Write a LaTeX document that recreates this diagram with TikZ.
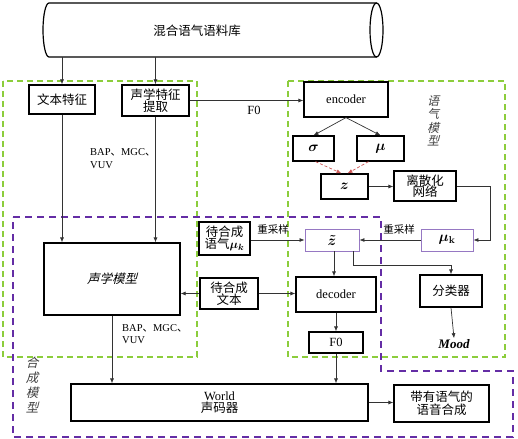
\documentclass[tikz,border=0pt]{standalone}
\usepackage{fontspec}
\setmainfont{Liberation Serif}
\newfontfamily\cjk{Noto Sans CJK SC}
\newfontfamily\cjksl[FakeSlant=0.25]{Noto Sans CJK SC}
\usetikzlibrary{arrows.meta}
\definecolor{grn}{RGB}{140,205,60}
\definecolor{prp}{RGB}{100,45,165}
\definecolor{rdd}{RGB}{205,85,85}
\definecolor{lpr}{RGB}{150,120,195}
\begin{document}
\begin{tikzpicture}[x=1pt,y=-1pt,
  font=\fontsize{12.5}{14.5}\selectfont,
  box/.style={draw=black, line width=1.2pt, fill=white, inner sep=0pt, align=center},
  thinbox/.style={draw=lpr, line width=0.9pt, fill=white, inner sep=0pt, align=center},
  conn/.style={draw=black!80, line width=0.7pt, -{Latex[length=5pt,width=4pt]}},
  redconn/.style={draw=rdd, line width=0.7pt, dash pattern=on 3pt off 2pt, -{Latex[length=5pt,width=4pt]}},
  grnbox/.style={draw=grn, line width=1.3pt, dash pattern=on 6pt off 4pt},
  prpbox/.style={draw=prp, line width=1.3pt, dash pattern=on 7pt off 5pt},
  mathtxt/.style={font=\fontsize{14}{16}\selectfont\boldmath},
  lbl/.style={font=\fontsize{10.5}{12.5}\selectfont, align=left, inner sep=0pt},
  vlbl/.style={font=\fontsize{12}{13.5}\selectfont\cjksl, align=center, inner sep=0pt, text=black!75}
]
\useasboundingbox (0,0) rectangle (518,438);
% dashed regions
\draw[grnbox] (3,81) rectangle (197,357);
\draw[grnbox] (288,81) rectangle (505,357);
\draw[prpbox] (13,217) -- (381,217) -- (381,371) -- (513,371) -- (513,437) -- (13,437) -- cycle;

% cylinder
\draw[line width=1.2pt, fill=white] (376.5,3) -- (49,3) .. controls (45.7,3) and (43,15.1) .. (43,30) .. controls (43,44.9) and (45.7,57) .. (49,57) -- (376.5,57);
\draw[line width=1.2pt] (376.5,30) ellipse[x radius=6.5, y radius=27];
\node[inner sep=0pt, minimum width=334pt, minimum height=54pt] (db) at (210,30) {};
\node (dbt) at (197,31) {\cjk 混合语气语料库};

% boxes
\node[box, minimum width=66pt, minimum height=29pt] (tf) at (62,99.5) {\cjk 文本特征};
\node[box, minimum width=67pt, minimum height=31pt] (af) at (155.5,100.5) {\cjk 声学特征\\[-2pt]\cjk 提取};
\node[box, minimum width=84pt, minimum height=35pt] (enc) at (346,99.5) {encoder};
\node[box, mathtxt, minimum width=41pt, minimum height=25pt] (sig) at (313.5,148.5) {$\sigma$};
\node[box, mathtxt, minimum width=47pt, minimum height=25pt] (mu) at (380.5,148.5) {$\mu$};
\node[box, mathtxt, minimum width=47pt, minimum height=25pt] (zb) at (344.5,186.5) {$z$};
\node[box, minimum width=62pt, minimum height=30pt] (disc) at (425,186) {\cjk 离散化\\[-3pt]\cjk 网络};
\node[thinbox, mathtxt, minimum width=52pt, minimum height=22pt] (muk) at (447,240) {$\mu_{\mathbf{k}}$};
\node[thinbox, mathtxt, minimum width=54pt, minimum height=22pt] (zt) at (332,240) {$\tilde{z}$};
\node[box, minimum width=51pt, minimum height=33pt] (tmood) at (224.5,238.5) {\cjk 待合成\\[-3pt]{\cjk 语气}{\boldmath$\mu_{k}$}};
\node[box, minimum width=58pt, minimum height=31pt] (ttext) at (229,293.5) {\cjk 待合成\\[-3pt]\cjk 文本};
\node[box, minimum width=136pt, minimum height=72pt] (am) at (112,279) {\cjksl 声学模型};
\node[box, minimum width=80pt, minimum height=35pt] (dec) at (336,294.5) {decoder};
\node[box, minimum width=62pt, minimum height=32pt] (cls) at (451,291) {\cjk 分类器};
\node[box, minimum width=54pt, minimum height=21pt] (f0) at (336,342.5) {F0};
\node[box, minimum width=297pt, minimum height=37pt] (world) at (219.5,402.5) {World\\[-2pt]\cjk 声码器};
\node[box, minimum width=95pt, minimum height=37pt] (out) at (441.5,403.5) {\cjk 带有语气的\\[-2pt]\cjk 语音合成};
\node[inner sep=1pt, font=\fontsize{13}{15}\selectfont\bfseries\itshape] (mood) at (454,344) {Mood};

% labels
\node[lbl, anchor=west] (bap1) at (90,158.5) {BAP{\cjk 、}MGC{\cjk 、}\\VUV};
\node[lbl, anchor=west] (bap2) at (122,334) {BAP{\cjk 、}MGC{\cjk 、}\\VUV};
\node[inner sep=0pt] (f0l) at (254,110) {F0};
\node[lbl, font=\fontsize{10.5}{12}\selectfont\cjk] (rs1) at (273,229) {重采样};
\node[lbl, font=\fontsize{10.5}{12}\selectfont\cjk] (rs2) at (399,229) {重采样};
\node[vlbl] (qm) at (433,121) {语\\气\\模\\型};
\node[vlbl, font=\fontsize{12.5}{15}\selectfont\cjksl] (hm) at (32,385) {合\\成\\模\\型};

% connectors
\draw[conn] (tf.north |- db.south) -- (tf.north);
\draw[conn] (af.north |- db.south) -- (af.north);
\draw[conn] (tf.south) -- (tf.south |- am.north);
\draw[conn] (af.south) -- (af.south |- am.north);
\draw[conn] (af.east) -- (af.east -| enc.west);
\draw[conn] (enc.south) -- (sig.north);
\draw[conn] (enc.south) -- (mu.north);
\draw[redconn] ([xshift=2pt]sig.south) -- ([xshift=-3pt]zb.north);
\draw[redconn] ([xshift=-12pt]mu.south) -- ([xshift=3pt]zb.north);
\draw[conn] (zb.east) -- (zb.east -| disc.west);
\draw[conn] (disc.east) -- ++(34,0) |- (muk.east);
\draw[conn] (muk.west) -- (zt.east);
\draw[conn] (tmood.east |- zt.west) -- (zt.west);
\draw[conn] ([xshift=2pt]zt.south) -- ([xshift=2pt]zt.south |- dec.north);
\draw[conn] ([xshift=21pt]zt.south) -- ++(0,14) -| (cls.north);
\draw[conn] (ttext.west) -- (ttext.west -| am.east);
\draw[conn] (ttext.east) -- (ttext.east -| dec.west);
\draw[conn] (dec.south) -- (f0.north);
\draw[conn] (cls.south) -- (mood.north);
\draw[conn] (f0.south) -- (f0.south |- world.north);
\draw[conn] (am.south) -- (am.south |- world.north);
\draw[conn] (world.east) -- (world.east -| out.west);
\end{tikzpicture}
\end{document}
